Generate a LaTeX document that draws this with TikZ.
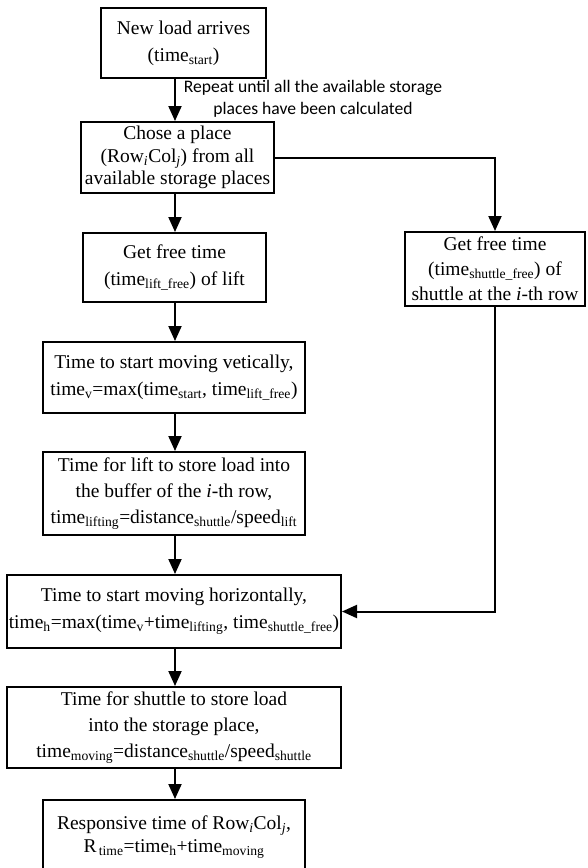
\documentclass[tikz,border=0pt]{standalone}
\usepackage{fontspec}
\setmainfont{Liberation Serif}
\newfontfamily\notefont{Carlito}
\usetikzlibrary{arrows.meta}
\newcommand{\sbs}[1]{\textsubscript{#1}}
\tikzset{
  box/.style={draw=black, line width=2pt, fill=white, inner sep=0pt, align=center},
  arr/.style={draw=black, line width=2pt, -{Triangle[length=15pt,width=13pt]}},
  notetext/.style={inner sep=0pt, align=center, font=\notefont\fontsize{17.6}{22}\selectfont}
}
\newcommand{\boxat}[7]{% name, left, top, right, bottom, baselineskip, text
  \node[box, font=\fontsize{19.5}{#6}\selectfont, minimum width=#4pt-#2pt, minimum height=#5pt-#3pt] (#1) at ({(#2+#4)/2},{(#3+#5)/2}) {#7};}
\begin{document}
\begin{tikzpicture}[x=1pt,y=-1pt]
\useasboundingbox (0,0) rectangle (587,868);
\boxat{b1}{101}{8}{266}{78}{27}{New load arrives\\(time\sbs{start})}
\boxat{b2}{81}{122}{274}{193}{22.5}{Chose a place\\(Row\sbs{\textit{i}}Col\sbs{\textit{j}}) from all\\available storage places}
\boxat{b3}{83}{233}{266}{302}{27}{Get free time\\(time\sbs{lift\_free}) of lift}
\boxat{rb}{405}{232}{585}{306}{25}{Get free time\\(time\sbs{shuttle\_free}) of\\shuttle at the \textit{i}-th row}
\boxat{b4}{43}{342}{305}{413}{27}{Time to start moving vetically,\\time\sbs{v}=max(time\sbs{start}, time\sbs{lift\_free})}
\boxat{b5}{43}{452}{305}{535}{26}{Time for lift to store load into\\the buffer of the \textit{i}-th row,\\time\sbs{lifting}=distance\sbs{shuttle}/speed\sbs{lift}}
\boxat{b6}{7}{575}{341}{648}{27}{Time to start moving horizontally,\\time\sbs{h}=max(time\sbs{v}+time\sbs{lifting}, time\sbs{shuttle\_free})}
\boxat{b7}{7}{687}{341}{768}{26}{Time for shuttle to store load\\into the storage place,\\time\sbs{moving}=distance\sbs{shuttle}/speed\sbs{shuttle}}
\boxat{b8}{43}{800}{305}{874}{23}{Responsive time of Row\sbs{\textit{i}}Col\sbs{\textit{j}},\\R\sbs{\,time}=time\sbs{h}+time\sbs{moving}}
\node[notetext] (note) at (313,99) {Repeat until all the available storage\\places have been calculated};
\coordinate (mx) at (175,0);
\draw[arr] (b1.south -| mx) -- (b2.north -| mx);
\draw[arr] (b2.south -| mx) -- (b3.north -| mx);
\draw[arr] (b3.south -| mx) -- (b4.north -| mx);
\draw[arr] (b4.south -| mx) -- (b5.north -| mx);
\draw[arr] (b5.south -| mx) -- (b6.north -| mx);
\draw[arr] (b6.south -| mx) -- (b7.north -| mx);
\draw[arr] (b7.south -| mx) -- (b8.north -| mx);
\draw[arr] (b2.east) -| (rb.north);
\draw[arr] (rb.south) |- (b6.east);
\end{tikzpicture}
\end{document}
